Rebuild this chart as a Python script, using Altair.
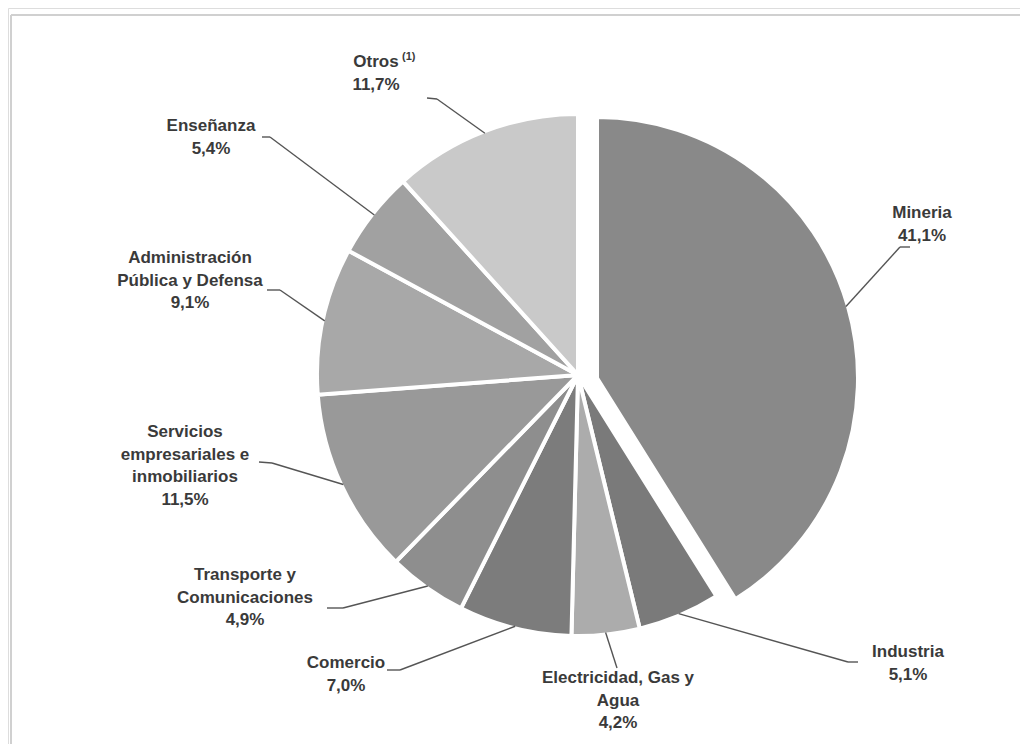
import altair as alt
import pandas as pd

# ---- data ----
sectores = ["Mineria", "Industria", "Electricidad, Gas y Agua", "Comercio",
            "Transporte y Comunicaciones", "Servicios empresariales e inmobiliarios",
            "Administración Pública y Defensa", "Enseñanza", "Otros"]
valores = [41.1, 5.1, 4.2, 7.0, 4.9, 11.5, 9.1, 5.4, 11.7]
etiquetas = [
    "Mineria\n41,1%",
    "Industria\n5,1%",
    "Electricidad, Gas y\nAgua\n4,2%",
    "Comercio\n7,0%",
    "Transporte y\nComunicaciones\n4,9%",
    "Servicios\nempresariales e\ninmobiliarios\n11,5%",
    "Administración\nPública y Defensa\n9,1%",
    "Enseñanza\n5,4%",
    "Otros\n11,7%",
]
nota = ["(1)"]

# ---- styles / layout ----
colores = ["#898989", "#7a7a7a", "#acacac", "#7c7c7c", "#8e8e8e",
           "#999999", "#a8a8a8", "#a1a1a1", "#c9c9c9"]
# label anchor: centre x, first-line y (chart pixels)
lab_x = [914, 900, 610, 338, 237, 177, 182, 203, 368]
lab_y = [205, 644, 670, 655, 567, 424, 250, 118, 54]
# leader elbow and end (chart pixels)
elb_x = [892, 840, 609, 392, 335, 264, 272, 262, 429]
elb_y = [239, 654, 660, 662, 600, 455, 282, 129, 91]
end_x = [902, 850, 609, 379, 319, 251, 259, 254, 419]
end_y = [239, 654, 660, 662, 600, 454, 282, 129, 90]

CX, CY, R = 570, 367, 261
EX_DX, EX_DY = 19, 3

df = pd.DataFrame({
    "sector": sectores, "valor": valores, "orden": list(range(len(sectores))),
    "etiqueta": etiquetas, "lx": lab_x, "ly": lab_y,
    "ex": elb_x, "ey": elb_y, "fx": end_x, "fy": end_y,
})

base = alt.Chart(df)

color = alt.Color("sector:N", scale=alt.Scale(domain=sectores, range=colores), legend=None)
theta = alt.Theta("valor:Q", stack=True)
order = alt.Order("orden:Q")
is_min = alt.datum.sector == "Mineria"

pie = base.mark_arc(radius=R, stroke="white", strokeWidth=4).encode(
    theta=theta, order=order, color=color,
    opacity=alt.condition(is_min, alt.value(0), alt.value(1)),
    x=alt.value(CX), y=alt.value(CY),
)
pie_ex = base.mark_arc(radius=R, stroke="white", strokeWidth=4).encode(
    theta=theta, order=order, color=color,
    opacity=alt.condition(is_min, alt.value(1), alt.value(0)),
    x=alt.value(CX + EX_DX), y=alt.value(CY + EX_DY),
)

geo = base.transform_joinaggregate(
    total="sum(valor)"
).transform_window(
    acum="sum(valor)", sort=[alt.SortField("orden")], frame=[None, 0]
).transform_calculate(
    mid="(datum.acum - datum.valor/2) / datum.total * 2 * PI",
).transform_calculate(
    ox=f"(datum.sector == 'Mineria' ? {CX + EX_DX} : {CX}) + {R - 2} * sin(datum.mid)",
    oy=f"(datum.sector == 'Mineria' ? {CY + EX_DY} : {CY}) - {R - 2} * cos(datum.mid)",
)

nos = dict(scale=None, axis=None)
leader1 = geo.mark_rule(color="#555555", strokeWidth=1.4).encode(
    x=alt.X("ox:Q", **nos), y=alt.Y("oy:Q", **nos), x2="ex:Q", y2="ey:Q")
leader2 = base.mark_rule(color="#555555", strokeWidth=1.4).encode(
    x=alt.X("ex:Q", **nos), y=alt.Y("ey:Q", **nos), x2="fx:Q", y2="fy:Q")

texto = base.mark_text(
    font="Liberation Sans", fontWeight="bold", fontSize=17, color="#3a3a3a",
    lineBreak="\n", lineHeight=22.5, align="center", baseline="middle",
).encode(x=alt.X("lx:Q", **nos), y=alt.Y("ly:Q", **nos), text="etiqueta:N")

nota_txt = alt.Chart(pd.DataFrame({"t": nota})).mark_text(
    font="Liberation Sans", fontWeight="bold", fontSize=11, color="#3a3a3a",
    align="left", baseline="middle",
).encode(x=alt.value(394), y=alt.value(49), text="t:N")

borde_top = base.mark_rule(color="#d0d0d0", strokeWidth=2).encode(
    x=alt.value(3), x2=alt.value(1012), y=alt.value(7), y2=alt.value(7))
borde_left = base.mark_rule(color="#d0d0d0", strokeWidth=2).encode(
    x=alt.value(3), x2=alt.value(3), y=alt.value(7), y2=alt.value(736))

chart = alt.layer(borde_top, borde_left, pie, pie_ex, leader1, leader2, texto, nota_txt).properties(
    width=1012, height=736, padding=0, autosize="none"
).configure_view(stroke=None).configure(background="white")

chart.save("out.html", embed_options={"renderer": "svg", "actions": False})
